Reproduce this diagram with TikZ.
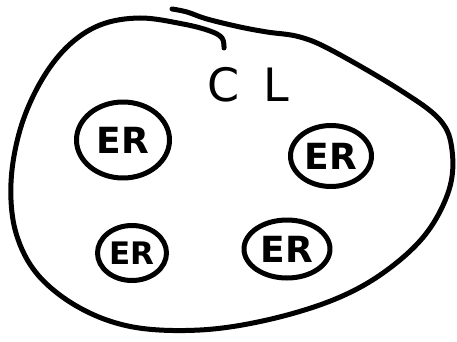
\documentclass[tikz,border=0pt]{standalone}
\usepackage{fontspec}
\setmainfont{DejaVu Sans}
\usetikzlibrary{shapes.geometric}
\tikzset{
  pen/.style={line width=5pt, line cap=round, line join=round},
  ering/.style={ellipse, draw, pen, inner sep=0pt},
  ertext/.style={inner sep=0pt, font=\bfseries\fontsize{#1}{#1}\selectfont}
}

\begin{document}
\begin{tikzpicture}[x=1pt, y=-1pt]
  \useasboundingbox (0,0) rectangle (457,342);
  % outer blob
  \draw[pen] plot[smooth, tension=0.6] coordinates {
    (224,48) (222,38) (210,31) (183,24) (140,18) (100,25) (67,47)
    (40,83) (20,130) (11,183) (16,233) (38,275) (80,308) (133,327)
    (200,330) (267,320) (333,300) (383,273) (425,235) (449,190)
    (452,150) (440,120) (400,90) (333,51) (300,37) (267,32)
    (240,27) (207,19) (187,12) (172,9)};
  % label
  \node[inner sep=0pt, font=\fontsize{46}{46}\selectfont] (cl) at (248,85) {C\hspace{24pt}L};
  % inner cells
  \foreach \n/\x/\y/\w/\h/\s in {1/123/140/93/76/36, 2/331/156/81/61/36,
                                 3/132/253/69/55/31, 4/287/249/86/58/36} {
    \node[ering, minimum width=\w pt, minimum height=\h pt] (er\n) at (\x,\y) {};
    \node[ertext=\s] (er\n txt) at (er\n) {ER};
  }
\end{tikzpicture}
\end{document}
